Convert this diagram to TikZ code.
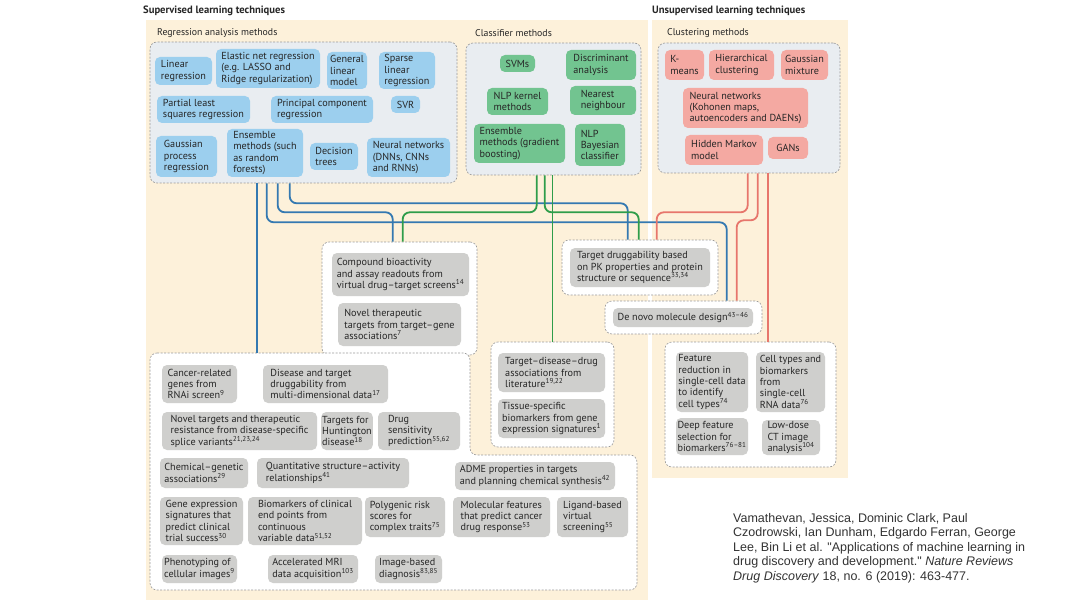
\documentclass[tikz,border=0pt]{standalone}
\usepackage{fontspec}
\setmainfont{PT Sans}
\newfontfamily\citefont{Liberation Sans}
\usepackage{xcolor}
\usepackage{tikz}
\usetikzlibrary{positioning}

\definecolor{cream}{HTML}{FDF1DA}
\definecolor{panel}{HTML}{E9EDF1}
\definecolor{regblue}{HTML}{9CCFEE}
\definecolor{clfgreen}{HTML}{72C490}
\definecolor{clupink}{HTML}{F4A9A2}
\definecolor{appgray}{HTML}{CFCFCD}
\definecolor{lineblue}{HTML}{3479B1}
\definecolor{linegreen}{HTML}{2F9D4A}
\definecolor{linered}{HTML}{E7766C}
\definecolor{dashgray}{HTML}{9A9A9A}

\newcommand{\refn}[1]{\textsuperscript{#1}}

\begin{document}
\begin{tikzpicture}[x=1pt, y=-1pt,
    font=\fontsize{10.2}{11.4}\selectfont,
    itembox/.style={rectangle, rounded corners=5pt, align=left, inner sep=1pt, text=black!85},
    wh/.style 2 args={minimum width=#1, minimum height=#2},
    regnode/.style={itembox, fill=regblue},
    clfnode/.style={itembox, fill=clfgreen},
    clunode/.style={itembox, fill=clupink},
    appnode/.style={itembox, fill=appgray},
    groupbox/.style={rectangle, draw=dashgray, dash pattern=on 2pt off 1.5pt, line width=0.6pt, rounded corners=7pt},
    headlabel/.style={anchor=west, inner sep=0pt, text=black!85, font=\fontsize{9.8}{11}\selectfont},
    connector/.style={line width=1.8pt, rounded corners=7pt}]
    \useasboundingbox (0,0) rectangle (1080,607);
    \fill[white] (0,0) rectangle (1080,607);
    \fill[cream] (146,20) rectangle (648,600);
    \fill[cream] (652,20) rectangle (848,478);

    % Headings
    \node (suplabel) [headlabel, font=\bfseries\fontsize{10.6}{12}\selectfont] at (143,11) {Supervised learning techniques};
    \node (unslabel) [headlabel, font=\bfseries\fontsize{10.6}{12}\selectfont] at (652,11) {Unsupervised learning techniques};
    \node (reglabel) [headlabel] at (157,33) {Regression analysis methods};
    \node (clflabel) [headlabel] at (475,33) {Classifier methods};
    \node (clulabel) [headlabel] at (667,33) {Clustering methods};

    % Group boxes
    \node (regbox) [groupbox, fill=panel, wh={307}{141}] at (303.5,112.5) {};
    \node (clfbox) [groupbox, fill=panel, wh={175}{132}] at (553.5,109) {};
    \node (clubox) [groupbox, fill=panel, wh={182}{130}] at (749,108) {};
    \node (cmpgrp) [groupbox, fill=white, wh={155}{113}] at (399.5,298.5) {};
    \node (tgtgrp) [groupbox, fill=white, wh={156}{55}] at (640,267.5) {};
    \node (denovogrp) [groupbox, fill=white, wh={157}{33}] at (683.5,317.5) {};
    \node (tddgrp) [groupbox, fill=white, wh={123}{105}] at (552.5,394.5) {};
    \node (unsgrp) [groupbox, fill=white, wh={171}{125}] at (750.5,404.5) {};
    % big application box (notched)
    \draw[groupbox, fill=white] (150,353) -- (470,353) -- (470,455) -- (637,455) -- (637,590) -- (150,590) -- cycle;
    \coordinate (bigtop) at (257,353);

    % Connectors
    \draw[connector, lineblue] (bigtop |- regbox.south) -- (bigtop);
    \draw[connector, lineblue] ([xshift=117pt]regbox.south west) -- ++(0,39) -| ([xshift=122pt]denovogrp.north west);
    \draw[connector, lineblue] ([xshift=128pt]regbox.south west) -- ++(0,29) -| ([xshift=71pt]cmpgrp.north west);
    \draw[connector, lineblue] ([xshift=140pt]regbox.south west) -- ++(0,20) -| ([xshift=66pt]tgtgrp.north west);
    \draw[connector, linegreen] ([xshift=71pt]clfbox.south west) -- ++(0,37) -| ([xshift=81pt]cmpgrp.north west);
    \draw[connector, linegreen] ([xshift=79pt]clfbox.south west) -- ++(0,37) -| ([xshift=77pt]tgtgrp.north west);
    \draw[connector, linegreen] (tddgrp.north |- clfbox.south) -- (tddgrp.north);
    \draw[connector, linered] ([xshift=90pt]clubox.south west) -- ++(0,39) -| ([xshift=95pt]tgtgrp.north west);
    \draw[connector, linered] ([xshift=100pt]clubox.south west) -- ++(0,47) -| ([xshift=132pt]denovogrp.north west);
    \draw[connector, linered] ([xshift=110pt]clubox.south west) -- ([xshift=103pt]unsgrp.north west);

    % Regression methods
    \node (linreg) [regnode, wh={57}{28}] at (183.5,71) {Linear\\regression};
    \node (elastic) [regnode, wh={104}{39}] at (268,68.5) {Elastic net regression\\(e.g. LASSO and\\Ridge regularization)};
    \node (genlin) [regnode, wh={40}{37}] at (347,70.5) {General\\linear\\model};
    \node (sparse) [regnode, wh={56}{37}] at (407,70.5) {Sparse\\linear\\regression};
    \node (pls) [regnode, wh={93}{27}] at (203.5,109.5) {Partial least\\squares regression};
    \node (pcr) [regnode, wh={102}{27}] at (322,109.5) {Principal component\\regression};
    \node (svr) [regnode, wh={29}{17}] at (405.5,104.5) {SVR};
    \node (gpr) [regnode, wh={61}{41}] at (186.5,156.5) {Gaussian\\process\\regression};
    \node (ensreg) [regnode, wh={76}{48}] at (265,153) {Ensemble\\methods (such\\as random\\forests)};
    \node (dtree) [regnode, wh={48}{27}] at (334,156.5) {Decision\\trees};
    \node (nnreg) [regnode, wh={83}{39}] at (408.5,157.5) {Neural networks\\(DNNs, CNNs\\and RNNs)};

    % Classifier methods
    \node (svms) [clfnode, wh={35}{17}] at (517.5,63.5) {SVMs};
    \node (discrim) [clfnode, wh={70}{30}] at (601,65) {Discriminant\\analysis};
    \node (nlpkern) [clfnode, wh={61}{27}] at (517.5,101.5) {NLP kernel\\methods};
    \node (nearest) [clfnode, wh={66}{29}] at (603,100.5) {Nearest\\neighbour};
    \node (ensclf) [clfnode, wh={91}{39}] at (519.5,143.5) {Ensemble\\methods (gradient\\boosting)};
    \node (bayes) [clfnode, wh={50}{42}] at (600,145) {NLP\\Bayesian\\classifier};

    % Clustering methods
    \node (kmeans) [clunode, wh={39}{30}] at (684.5,65) {K-\\means};
    \node (hier) [clunode, wh={65}{30}] at (741.5,65) {Hierarchical\\clustering};
    \node (gmm) [clunode, wh={47}{30}] at (804.5,65) {Gaussian\\mixture};
    \node (nnclu) [clunode, wh={125}{40}] at (745.5,108) {Neural networks\\(Kohonen maps,\\autoencoders and DAENs)};
    \node (hmm) [clunode, wh={78}{30}] at (724,150) {Hidden Markov\\model};
    \node (gans) [clunode, wh={40}{22}] at (788,148) {GANs};

    % Applications
    \node (cmpd) [appnode, wh={137}{43}] at (400.5,274.5) {Compound bioactivity\\and assay readouts from\\virtual drug–target screens\refn{14}};
    \node (novther) [appnode, wh={123}{43}] at (399.5,324.5) {Novel therapeutic\\targets from target–gene\\associations\refn{7}};
    \node (tgtdrug) [appnode, wh={140}{39}] at (640,267.5) {Target druggability based\\on PK properties and protein\\structure or sequence\refn{33,34}};
    \node (denovo) [appnode, wh={140}{19}] at (683,317.5) {De novo molecule design\refn{43–46}};
    \node (tdd) [appnode, wh={107}{39}] at (551.5,372.5) {Target–disease–drug\\associations from\\literature\refn{19,22}};
    \node (tissue) [appnode, wh={107}{39}] at (551.5,418.5) {Tissue-specific\\biomarkers from gene\\expression signatures\refn{1}};
    \node (cancer) [appnode, wh={75}{38}] at (199.5,384) {Cancer-related\\genes from\\RNAi screen\refn{9}};
    \node (disdrug) [appnode, wh={125}{38}] at (325.5,384) {Disease and target\\druggability from\\multi-dimensional data\refn{17}};
    \node (novtgt) [appnode, wh={155}{38}] at (239.5,431) {Novel targets and therapeutic\\resistance from disease-specific\\splice variants\refn{21,23,24}};
    \node (hunt) [appnode, wh={50}{38}] at (347,431) {Targets for\\Huntington\\disease\refn{18}};
    \node (drugsens) [appnode, wh={82}{38}] at (419,431) {Drug\\sensitivity\\prediction\refn{55,62}};
    \node (chemgen) [appnode, wh={88}{30}] at (204,473) {Chemical–genetic\\associations\refn{29}};
    \node (qsar) [appnode, wh={152}{30}] at (333,473) {Quantitative structure–activity\\relationships\refn{41}};
    \node (adme) [appnode, wh={160}{28}] at (535,476) {ADME properties in targets\\and planning chemical synthesis\refn{42}};
    \node (geneexp) [appnode, wh={83}{48}] at (201.5,521) {Gene expression\\signatures that\\predict clinical\\trial success\refn{30}};
    \node (biomark) [appnode, wh={114}{48}] at (305,521) {Biomarkers of clinical\\end points from\\continuous\\variable data\refn{51,52}};
    \node (polygen) [appnode, wh={80}{40}] at (405,517) {Polygenic risk\\scores for\\complex traits\refn{75}};
    \node (molfeat) [appnode, wh={97}{40}] at (501.5,517) {Molecular features\\that predict cancer\\drug response\refn{53}};
    \node (ligand) [appnode, wh={71}{40}] at (592.5,517) {Ligand-based\\virtual\\screening\refn{55}};
    \node (pheno) [appnode, wh={75}{28}] at (199.5,569) {Phenotyping of\\cellular images\refn{9}};
    \node (mri) [appnode, wh={90}{28}] at (313,569) {Accelerated MRI\\data acquisition\refn{103}};
    \node (imgdiag) [appnode, wh={67}{28}] at (408.5,569) {Image-based\\diagnosis\refn{83,85}};
    \node (featred) [appnode, wh={72}{60}] at (712,382) {Feature\\reduction in\\single-cell data\\to identify\\cell types\refn{74}};
    \node (celltypes) [appnode, wh={69}{60}] at (790.5,382) {Cell types and\\biomarkers\\from\\single-cell\\RNA data\refn{76}};
    \node (deepfeat) [appnode, wh={72}{37}] at (712,436.5) {Deep feature\\selection for\\biomarkers\refn{76–81}};
    \node (lowdose) [appnode, wh={58}{35}] at (791,437.5) {Low-dose\\CT image\\analysis\refn{104}};

    % Source
    \node (citation) [anchor=north west, inner sep=0pt, align=left, text=black!80, font=\citefont\fontsize{12.5}{14.5}\selectfont] at (733,513)
        {Vamathevan, Jessica, Dominic Clark, Paul\\Czodrowski, Ian Dunham, Edgardo Ferran, George\\Lee, Bin Li et al. "Applications of machine learning in\\drug discovery and development." \textit{Nature Reviews}\\\textit{Drug Discovery} 18, no. 6 (2019): 463-477.};
\end{tikzpicture}
\end{document}
